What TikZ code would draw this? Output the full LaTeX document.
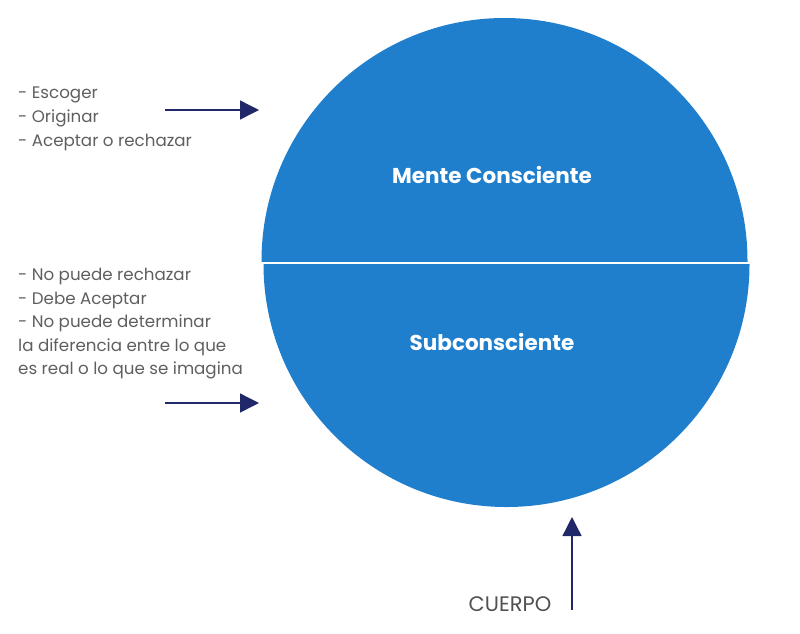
\documentclass[tikz,border=0pt]{standalone}
\usepackage{fontspec}
\setmainfont{Poppins}
\usetikzlibrary{arrows.meta}
\definecolor{esfera}{RGB}{31,127,204}
\definecolor{flecha}{RGB}{32,40,105}
\definecolor{texto}{RGB}{95,95,95}
\begin{document}
\begin{tikzpicture}[x=1pt, y=-1pt,
    lista/.style={anchor=north west, align=left, text=texto, font=\fontsize{16.7}{23.6}\selectfont, inner sep=0pt},
    titulo/.style={text=white, font=\fontsize{21.5}{24}\selectfont\bfseries},
    flechita/.style={draw=flecha, line width=1.4pt, -{Triangle[length=19pt,width=19pt]}}]
        \useasboundingbox (0,0) rectangle (800,633);

        % las dos mitades del circulo
        \begin{scope}
          \clip (0,0) rectangle (800,261);
          \fill[esfera] (504.5,261) circle (243pt);
        \end{scope}
        \begin{scope}
          \clip (0,264) rectangle (800,633);
          \fill[esfera] (506.5,264) circle (243pt);
        \end{scope}

          \node[titulo] (mente) at (492,175) {Mente Consciente};
          \node[titulo] (sub) at (492,342) {Subconsciente};

          \node[lista] (consc) at (18,87) {- Escoger\\- Originar\\- Aceptar o rechazar};
          \node[lista] (subc) at (18,268) {- No puede rechazar\\- Debe Aceptar\\- No puede determinar\\la diferencia entre lo que\\es real o lo que se imagina};
          \node[text=texto!85!black, font=\fontsize{21}{24}\selectfont] (cuerpo) at (510,604) {CUERPO};

          \coordinate (c1) at (165,110);
          \coordinate (e1) at (259,110);
          \coordinate (c2) at (165,403);
          \coordinate (e2) at (259,403);
          \coordinate (c3) at (572,610);
          \coordinate (e3) at (572,517);

          \path
            (c1) edge[flechita] (e1)
            (c2) edge[flechita] (e2)
            (c3) edge[flechita] (e3);

\end{tikzpicture}
\end{document}
